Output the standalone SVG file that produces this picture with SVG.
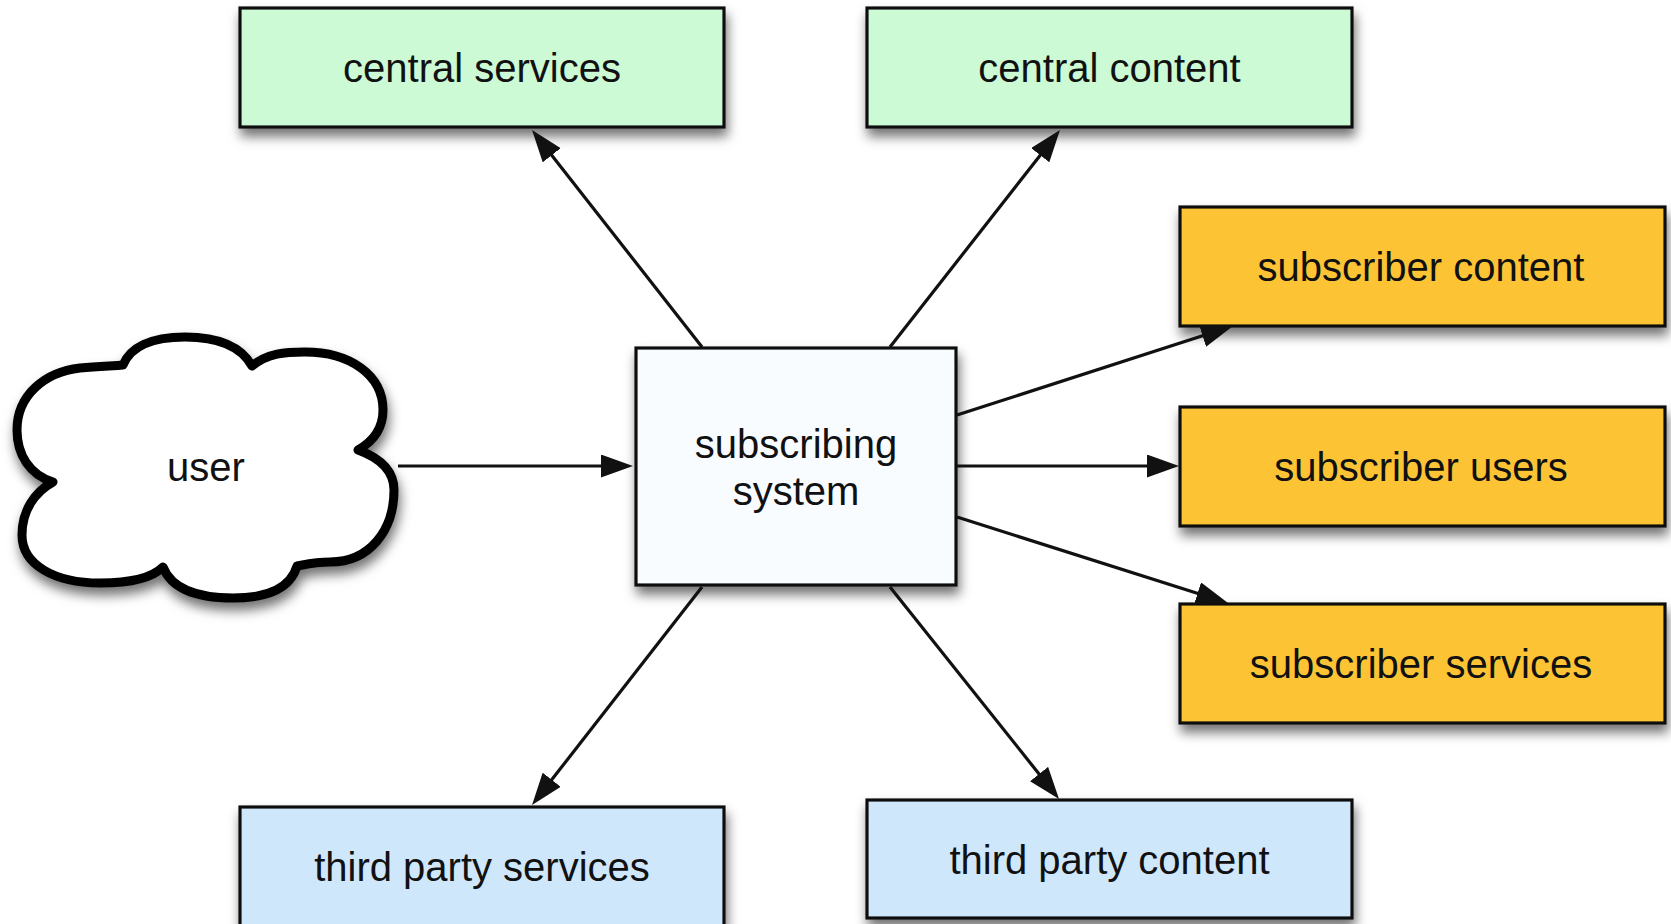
<svg xmlns="http://www.w3.org/2000/svg" width="1671" height="924" viewBox="0 0 1671 924">
<style>
.box{stroke:#111;stroke-width:3.2}
.green{fill:#CCFAD4}
.orange{fill:#FCC434}
.blue{fill:#CFE7FB}
.sys{fill:#F8FCFF}
.lbl{font-family:"Liberation Sans",Arial,sans-serif;font-size:40px;fill:#111;text-anchor:middle}
.conn line{stroke:#111;stroke-width:3.2;marker-end:url(#arrow)}
</style>
<defs>
<filter id="shadow" x="-10%" y="-20%" width="125%" height="150%">
<feDropShadow dx="2" dy="8" stdDeviation="6" flood-color="#000" flood-opacity="0.55"/>
</filter>
<marker id="arrow" markerUnits="userSpaceOnUse" markerWidth="34" markerHeight="24" refX="22" refY="11.5" orient="auto" viewBox="0 0 34 24">
<path d="M0,0 L32,11.5 L0,23 z" fill="#111"/>
</marker>
</defs>
<rect width="1671" height="924" fill="#fff"/>
<g id="user" filter="url(#shadow)">
<path d="M123,365 C130,348 150,337 185,337 C220,337 242,348 252,366 C268,353 285,352 305,352 C350,352 383,375 383,410 C383,430 372,442 358,450 C380,458 394,470 394,490 C394,530 370,562 330,562 C315,562 303,565 297,566 C290,590 265,598 233,598 C200,598 172,590 163,567 C150,580 125,583 100,583 C55,583 22,565 22,535 C22,510 35,492 53,482 C30,475 17,455 17,430 C17,395 45,372 80,368 C100,366 113,366 123,365 Z" fill="#fff" stroke="#000" stroke-width="9" stroke-linejoin="round"/>
</g>
<text class="lbl" x="206" y="481">user</text>
<g id="central-services">
<rect class="box green" x="240" y="8" width="484" height="119" filter="url(#shadow)"/>
<text class="lbl" x="482" y="82">central services</text>
</g>
<g id="central-content">
<rect class="box green" x="867" y="8" width="485" height="119" filter="url(#shadow)"/>
<text class="lbl" x="1109.5" y="82">central content</text>
</g>
<g id="subscriber-content">
<rect class="box orange" x="1180" y="207" width="485" height="119" filter="url(#shadow)"/>
<text class="lbl" x="1421" y="281">subscriber content</text>
</g>
<g id="subscriber-users">
<rect class="box orange" x="1180" y="407" width="485" height="119" filter="url(#shadow)"/>
<text class="lbl" x="1421" y="481">subscriber users</text>
</g>
<g id="subscriber-services">
<rect class="box orange" x="1180" y="604" width="485" height="119" filter="url(#shadow)"/>
<text class="lbl" x="1421" y="678">subscriber services</text>
</g>
<g id="subscribing-system">
<rect class="box sys" x="636" y="348" width="320" height="237" filter="url(#shadow)"/>
<text class="lbl" x="796" y="458">subscribing</text>
<text class="lbl" x="796" y="505">system</text>
</g>
<g id="third-party-services">
<rect class="box blue" x="240" y="807" width="484" height="119" filter="url(#shadow)"/>
<text class="lbl" x="482" y="881">third party services</text>
</g>
<g id="third-party-content">
<rect class="box blue" x="867" y="800" width="485" height="118" filter="url(#shadow)"/>
<text class="lbl" x="1109.5" y="874">third party content</text>
</g>
<g id="connectors" class="conn">
<line x1="398" y1="466" x2="623" y2="466"/>
<line x1="702" y1="347" x2="538.2" y2="137.9"/>
<line x1="890" y1="347" x2="1053.8" y2="137.9"/>
<line x1="957" y1="415" x2="1223.5" y2="329.1"/>
<line x1="957" y1="466" x2="1169" y2="466"/>
<line x1="957" y1="517" x2="1218.5" y2="600"/>
<line x1="702" y1="587" x2="538.2" y2="797.1"/>
<line x1="890" y1="587" x2="1052.8" y2="791.2"/>
</g>
</svg>
